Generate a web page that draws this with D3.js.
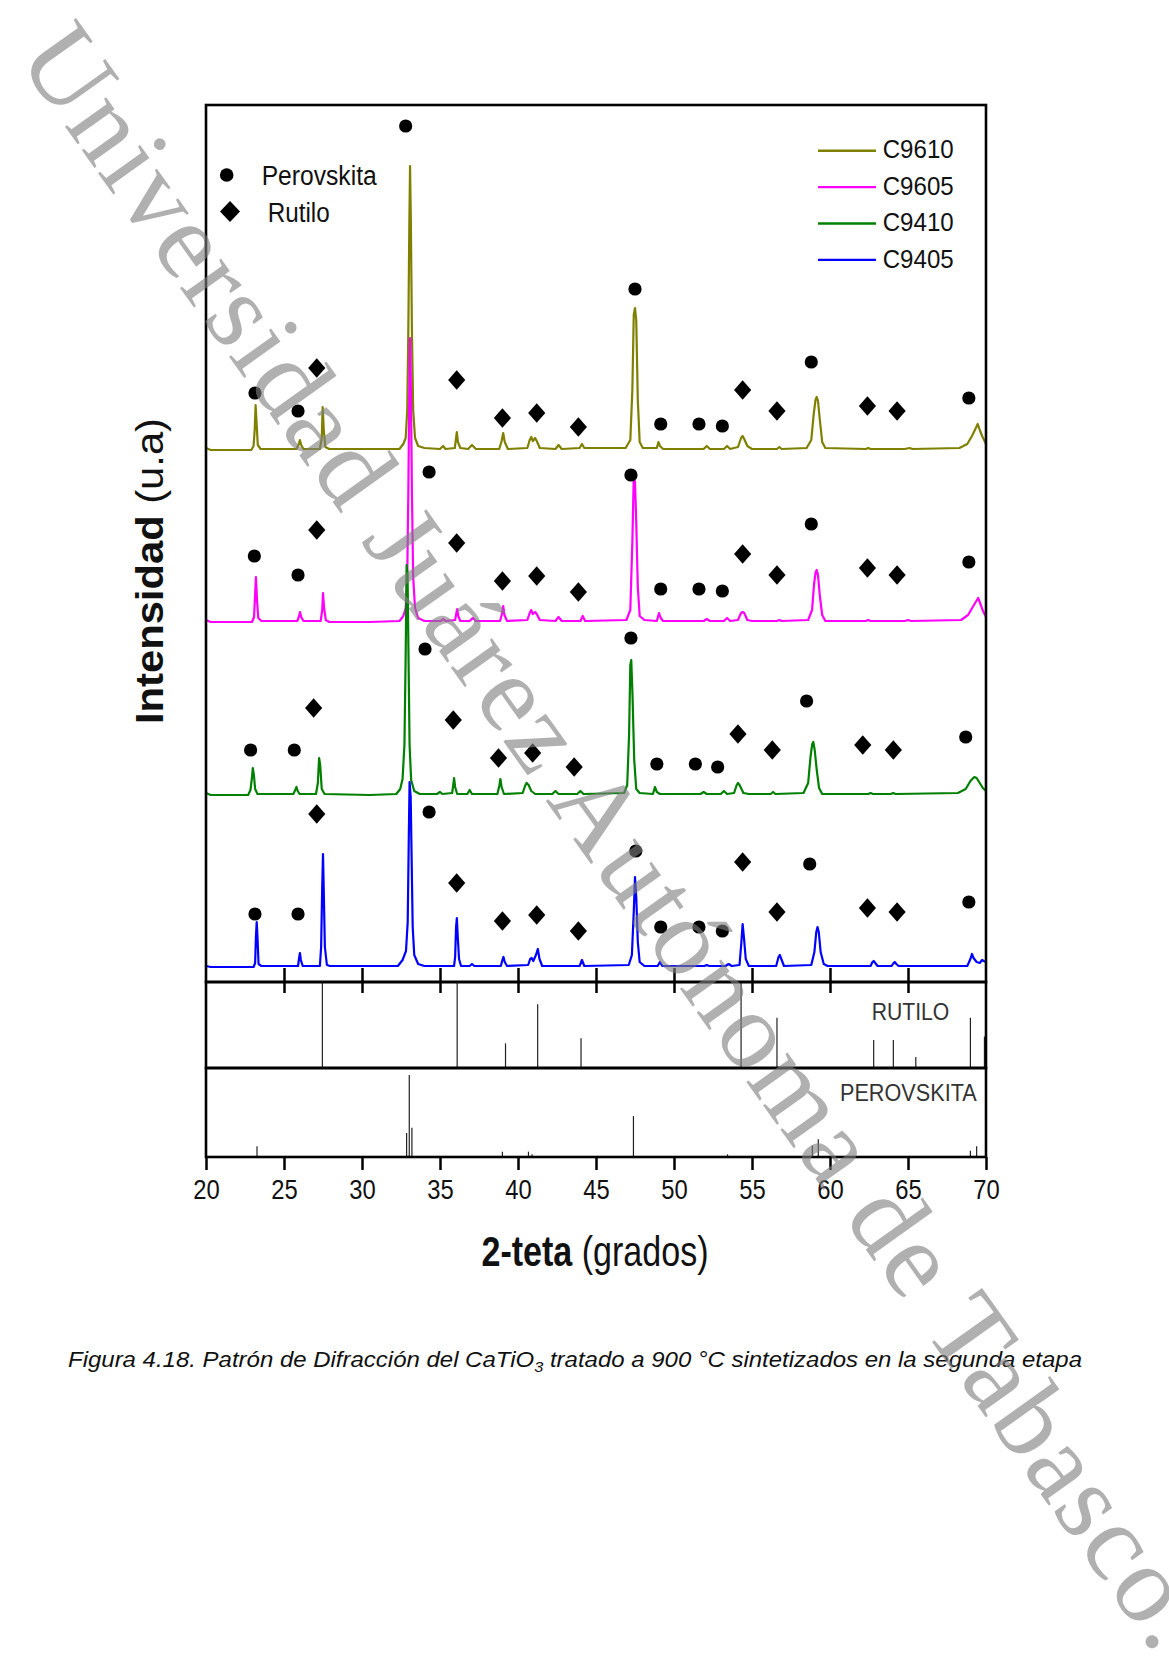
<!DOCTYPE html>
<html>
<head>
<meta charset="utf-8">
<script src="https://cdn.jsdelivr.net/npm/d3@7/dist/d3.min.js"></script>
<style>
body {margin:0; background:#fff;}
svg {display:block;}
text {font-family:"Liberation Sans", Arial, sans-serif;}
</style>
</head>
<body>
<svg id="chart" width="1169" height="1673"></svg>
<script>
/*** Data (2-teta in grados, intensidad in u.a.) ***/
const seriesNames   = ["C9610", "C9605", "C9410", "C9405"]
const seriesColors  = ["#808000", "#ff00ff", "#008000", "#0000ff"]
const seriesOffsets = [532, 360, 187, 15]
const xTicks        = [20, 25, 30, 35, 40, 45, 50, 55, 60, 65, 70]

const c9610 = [[20,2],[20.3,0],[22.9,0],[23.05,4],[23.12,20],[23.18,45],[23.25,25],[23.32,5],[23.5,1],[25.8,1],[25.95,6],[26.02,10],[26.1,5],[26.25,1],
	[27.3,1],[27.42,12],[27.48,43],[27.55,20],[27.65,3],[27.9,1],[30.5,1],[32.4,1],[32.65,6],[32.8,12],[32.9,40],[32.97,120],[33.03,220],[33.08,284],
	[33.13,230],[33.2,120],[33.28,40],[33.4,12],[33.6,4],[34,2],[35,1],[35.2,4],[35.35,1],[35.95,2],[36.03,12],[36.08,18],[36.15,8],[36.3,2],[36.8,1],
	[37.05,5],[37.3,1],[38.8,1],[38.95,9],[39.05,17],[39.15,8],[39.35,1],[40.6,2],[40.75,10],[40.85,13],[40.95,9],[41.1,12],[41.2,9],[41.4,2],[42.4,1],
	[42.6,5],[42.8,1],[43.95,2],[44.1,6],[44.25,2],[46.9,2],[47.2,10],[47.33,60],[47.42,135],[47.5,142],[47.58,130],[47.68,50],[47.8,8],[48,2],[48.9,2],
	[49,8],[49.1,4],[49.3,1],[51.9,1],[52.1,4],[52.3,1],[53.2,1],[53.4,4],[53.6,1],[54.1,3],[54.3,12],[54.4,14],[54.5,11],[54.7,4],[55,1],[56.6,1],
	[56.75,3],[56.9,1],[58.5,2],[58.8,10],[58.95,35],[59.07,50],[59.15,53],[59.23,49],[59.35,30],[59.5,8],[59.7,2],[62.3,1],[62.45,2],[62.6,1],[64.8,1],
	[65.1,2],[65.3,1],[68.3,2],[68.8,6],[69.1,14],[69.35,22],[69.47,26],[69.6,20],[69.75,14],[70,6]]

const c9605 = [[20,2],[20.3,0],[22.95,0],[23.08,5],[23.14,25],[23.2,45],[23.27,22],[23.35,4],[23.55,1],[25.85,1],[25.97,6],[26.03,10],[26.1,5],[26.25,1],
	[27.35,1],[27.45,12],[27.5,29],[27.57,14],[27.68,2],[27.9,0],[30.5,0],[32.4,1],[32.65,6],[32.8,14],[32.9,45],[32.97,130],[33.03,230],[33.08,284],
	[33.13,240],[33.2,130],[33.28,45],[33.4,14],[33.6,4],[34,1],[35.05,1],[35.2,3],[35.35,1],[35.97,2],[36.05,9],[36.1,13],[36.17,6],[36.3,1],[36.9,1],
	[37.1,4],[37.3,1],[38.85,1],[38.97,8],[39.05,16],[39.13,7],[39.3,1],[40.6,2],[40.75,9],[40.85,12],[40.95,8],[41.1,10],[41.2,8],[41.4,2],[42.4,1],
	[42.6,5],[42.8,1],[44,1],[44.15,6],[44.3,1],[46.95,2],[47.2,12],[47.33,80],[47.42,145],[47.5,140],[47.58,100],[47.68,35],[47.8,6],[48.1,2],[48.9,1],
	[49.04,9],[49.15,4],[49.3,1],[51.9,1],[52.1,3],[52.3,1],[53.2,1],[53.4,4],[53.6,1],[54.1,2],[54.3,9],[54.4,10],[54.5,9],[54.7,2],[55,1],[56.6,1],
	[56.75,2],[56.9,1],[58.6,2],[58.85,12],[58.98,38],[59.08,50],[59.15,52],[59.23,47],[59.35,26],[59.5,7],[59.7,1],[62.3,1],[62.45,2],[62.6,1],[64.8,1],
	[65,2],[65.2,1],[68.4,2],[68.85,7],[69.15,15],[69.38,21],[69.5,24],[69.62,19],[69.78,12],[70,5]]

const c9410 = [[20,2],[20.3,0],[22.7,0],[22.85,5],[22.95,18],[23,27],[23.07,20],[23.15,6],[23.3,1],[25.6,1],[25.72,5],[25.8,8],[25.88,4],[26,1],
	[27.05,1],[27.17,12],[27.25,37],[27.32,30],[27.42,6],[27.6,1],[30.5,0],[32.2,1],[32.45,6],[32.6,16],[32.72,50],[32.8,140],[32.86,230],[32.92,220],
	[32.98,140],[33.05,50],[33.15,15],[33.35,4],[33.7,1],[34.8,1],[35,3],[35.15,1],[35.78,2],[35.86,11],[35.9,17],[35.97,8],[36.1,1],[36.75,1],[36.9,5],
	[37.05,1],[38.68,1],[38.8,9],[38.87,16],[38.95,8],[39.1,1],[40.3,2],[40.45,9],[40.55,12],[40.68,10],[40.85,4],[41.1,1],[42.2,1],[42.4,4],[42.6,1],
	[43.8,1],[44,4],[44.2,1],[46.8,2],[47,10],[47.12,60],[47.2,130],[47.26,135],[47.34,100],[47.45,35],[47.58,6],[47.8,2],[48.65,1],[48.78,8],[48.9,3],
	[49.1,1],[51.7,1],[51.9,3],[52.1,1],[53,1],[53.2,4],[53.4,1],[53.85,2],[54.02,10],[54.1,12],[54.2,10],[54.45,2],[54.8,1],[56.2,1],[56.35,3],[56.5,1],
	[58.3,2],[58.6,12],[58.75,38],[58.86,51],[58.93,53],[59.02,45],[59.15,25],[59.3,7],[59.5,1],[62.45,1],[62.6,2],[62.75,1],[63.9,1],[64.05,2],[64.2,1],
	[68.2,2],[68.7,6],[69,14],[69.25,18],[69.4,17],[69.6,12],[69.8,7],[70,4]]

const c9405 = [[20,1],[20.3,0],[23.05,0],[23.15,4],[23.2,30],[23.25,45],[23.3,30],[23.37,3],[23.55,1],[25.9,1],[25.96,8],[26.02,14],[26.08,7],[26.2,1],
	[27.3,1],[27.38,20],[27.45,80],[27.5,113],[27.55,75],[27.62,20],[27.75,2],[27.95,1],[30.5,1],[32.3,1],[32.6,7],[32.82,16],[32.93,45],[33,130],
	[33.05,185],[33.12,170],[33.18,110],[33.25,40],[33.35,12],[33.6,3],[34,1],[35.9,1],[35.97,10],[36.03,40],[36.08,49],[36.14,30],[36.22,8],[36.35,1],
	[36.9,1],[37.05,3],[37.2,1],[38.9,1],[39,7],[39.07,10],[39.15,5],[39.3,1],[40.65,2],[40.78,8],[40.88,9],[40.98,6],[41.15,12],[41.27,18],[41.38,8],
	[41.55,1],[43.95,1],[44.1,7],[44.25,1],[47.1,2],[47.3,12],[47.42,55],[47.5,90],[47.58,70],[47.68,25],[47.8,5],[48.1,1],[48.95,1],[49.1,5],[49.25,1],
	[51.95,1],[52.1,2],[52.25,1],[53.3,1],[53.5,3],[53.7,1],[54.2,2],[54.32,25],[54.4,43],[54.48,30],[54.6,8],[54.8,1],[56.55,1],[56.7,10],[56.78,12],
	[56.88,8],[57.05,1],[58.8,2],[59,15],[59.12,35],[59.2,40],[59.28,35],[59.4,15],[59.6,3],[59.85,1],[62.6,1],[62.72,5],[62.8,6],[62.9,4],[63.05,1],
	[63.95,1],[64.08,4],[64.15,5],[64.25,3],[64.4,1],[68.8,1],[69,8],[69.1,13],[69.2,9],[69.4,5],[69.6,4],[69.75,7],[69.85,6],[70,5]]

// peak labels, [2-teta, height above the trace baseline]
const perovC9610 = [[32.8,324],[23.14,57],[25.9,39],[47.5,161],[49.15,26],[51.6,26],[53.1,24],[58.8,88],[68.9,52]]
const rutilC9610 = [[27.1,82],[36.07,70],[39,32],[41.2,37],[43.87,23],[54.4,60],[56.6,39],[62.4,44],[64.3,39]]
const perovC9605 = [[34.3,150],[23.1,66],[25.9,47],[47.24,147],[49.15,33],[51.6,33],[53.1,31],[58.8,98],[68.9,60]]
const rutilC9605 = [[27.1,92],[36.07,79],[39,41],[41.2,46],[43.87,30],[54.4,68],[56.6,47],[62.4,54],[64.3,47]]
const perovC9410 = [[34.04,146],[22.86,45],[25.66,45],[47.24,157],[48.9,31],[51.37,31],[52.8,28],[58.5,94],[68.7,58]]
const rutilC9410 = [[26.9,87],[35.85,75],[38.75,37],[40.94,42],[43.6,28],[54.1,61],[56.3,45],[62.1,50],[64.06,45]]
const perovC9405 = [[34.3,155],[23.14,53],[25.9,53],[47.55,116],[49.15,40],[51.6,40],[53.1,36],[58.7,103],[68.9,65]]
const rutilC9405 = [[27.1,153],[36.07,84],[39,46],[41.2,52],[43.87,36],[54.4,105],[56.6,55],[62.4,59],[64.3,55]]

// reference patterns, relative intensity (%)
const rutiloRef = [[27.46,100],[36.1,100],[39.2,29],[41.26,75],[44.04,35],[54.3,100],[56.6,59],[62.8,33],[64.06,33],[65.5,13],[69,59],[69.9,37]]
const perovRef  = [[23.27,12],[32.86,27],[33.03,92],[33.2,33],[39,6],[40.67,6],[40.9,3],[47.4,46],[53.43,3],[58.87,13],[59.25,20],[69,7],[69.4,12]]

/*** Setup ***/
const W = 1169, H = 1673
const LEFT = 206, RIGHT = 986, TOP = 105, MID1 = 982, MID2 = 1068, BOTTOM = 1157

var svg  = d3.select("#chart")
var x    = d3.scaleLinear().domain([20, 70]).range([LEFT, RIGHT])
var y    = d3.scaleLinear().domain([0, 877]).range([MID1, TOP])
var yRut = d3.scaleLinear().domain([0, 100]).range([MID2, MID1 + 1])
var yPer = d3.scaleLinear().domain([0, 100]).range([BOTTOM, MID2])

var traces = [c9610, c9605, c9410, c9405]
var perovMarks = [perovC9610, perovC9605, perovC9410, perovC9405]
var rutilMarks = [rutilC9610, rutilC9605, rutilC9410, rutilC9405]

function diamond(w, h) {return "M0," + (-h) + "L" + w + ",0L0," + h + "L" + (-w) + ",0Z"}

svg.append("rect").attr("width", W).attr("height", H).attr("fill", "#fff")

/*** Traces ***/
traces.forEach((s, i) => {
	var line = d3.line()
		.x(d => x(d[0]))
		.y(d => y(d[1] + seriesOffsets[i]))
	svg.append("path")
		.datum(s)
		.attr("d", line)
		.attr("fill", "none")
		.attr("stroke", seriesColors[i])
		.attr("stroke-width", 2.2)
		.attr("stroke-linejoin", "round")
})

/*** Phase markers ***/
perovMarks.forEach((m, i) => {
	svg.append("g").selectAll("circle")
		.data(m).enter()
		.append("circle")
		.attr("cx", d => x(d[0]))
		.attr("cy", d => y(d[1] + seriesOffsets[i]))
		.attr("r", 6.6)
		.attr("fill", "#000")
})
rutilMarks.forEach((m, i) => {
	svg.append("g").selectAll("path")
		.data(m).enter()
		.append("path")
		.attr("d", diamond(8.6, 9.8))
		.attr("transform", d => "translate(" + x(d[0]) + "," + y(d[1] + seriesOffsets[i]) + ")")
		.attr("fill", "#000")
})

/*** Reference sticks ***/
svg.append("g").selectAll("line")
	.data(rutiloRef).enter()
	.append("line")
	.attr("x1", d => x(d[0])).attr("x2", d => x(d[0]))
	.attr("y1", yRut(0)).attr("y2", d => yRut(d[1]))
	.attr("stroke", "#222").attr("stroke-width", 1.2)
svg.append("g").selectAll("line")
	.data(perovRef).enter()
	.append("line")
	.attr("x1", d => x(d[0])).attr("x2", d => x(d[0]))
	.attr("y1", yPer(0)).attr("y2", d => yPer(d[1]))
	.attr("stroke", "#222").attr("stroke-width", 1.2)

/*** Frames & axes ***/
var frames = [[TOP, MID1], [MID1, MID2], [MID2, BOTTOM]]
svg.append("g").selectAll("rect")
	.data(frames).enter()
	.append("rect")
	.attr("x", LEFT).attr("y", d => d[0])
	.attr("width", RIGHT - LEFT).attr("height", d => d[1] - d[0])
	.attr("fill", "none").attr("stroke", "#000").attr("stroke-width", 2.6)

var inner = xTicks.slice(1, -1)
var gUp = svg.append("g").attr("transform", "translate(0," + MID1 + ")")
	.call(d3.axisBottom(x).tickValues(inner).tickSize(-14).tickFormat(""))
var gDn = svg.append("g").attr("transform", "translate(0," + MID1 + ")")
	.call(d3.axisBottom(x).tickValues(inner).tickSize(11).tickFormat(""))
var gAx = svg.append("g").attr("transform", "translate(0," + BOTTOM + ")")
	.call(d3.axisBottom(x).tickValues(xTicks).tickSize(13).tickFormat(d3.format("d")))
;[gUp, gDn, gAx].forEach(g => {
	g.select(".domain").remove()
	g.selectAll(".tick line").attr("stroke", "#000").attr("stroke-width", 2.5)
})
gAx.selectAll(".tick text")
	.attr("y", 42).attr("dy", 0)
	.attr("fill", "#111")
	.style("font-size", "27px")
	.style("font-family", "'Liberation Sans', Arial, sans-serif")
	.attr("textLength", 26.5).attr("lengthAdjust", "spacingAndGlyphs")

/*** Axis titles ***/
var xt = svg.append("text")
	.attr("x", 595).attr("y", 1266)
	.attr("text-anchor", "middle")
	.attr("textLength", 227).attr("lengthAdjust", "spacingAndGlyphs")
	.style("font-size", "43px").attr("fill", "#111")
xt.append("tspan").attr("font-weight", "bold").text("2-teta")
xt.append("tspan").text(" (grados)")

var yt = svg.append("text")
	.attr("transform", "translate(163,571) rotate(-90)")
	.attr("text-anchor", "middle")
	.attr("textLength", 306).attr("lengthAdjust", "spacingAndGlyphs")
	.style("font-size", "39px").attr("fill", "#111")
yt.append("tspan").attr("font-weight", "bold").text("Intensidad")
yt.append("tspan").text(" (u.a)")

/*** Legends ***/
svg.append("circle").attr("cx", 226.7).attr("cy", 175).attr("r", 6.8).attr("fill", "#000")
svg.append("path").attr("d", diamond(10, 10.5)).attr("transform", "translate(230,211.5)").attr("fill", "#000")
svg.append("text").attr("x", 261.7).attr("y", 185).style("font-size", "27px").attr("fill", "#111")
	.attr("textLength", 115).attr("lengthAdjust", "spacingAndGlyphs").text("Perovskita")
svg.append("text").attr("x", 267.7).attr("y", 221.7).style("font-size", "27px").attr("fill", "#111")
	.attr("textLength", 62).attr("lengthAdjust", "spacingAndGlyphs").text("Rutilo")

var leg = svg.append("g").selectAll("g")
	.data(seriesNames).enter()
	.append("g")
	.attr("transform", (d, i) => "translate(0," + (150.7 + i * 36.4) + ")")
leg.append("line")
	.attr("x1", 818).attr("x2", 876)
	.attr("stroke", (d, i) => seriesColors[i]).attr("stroke-width", 2.4)
leg.append("text")
	.attr("x", 882.7).attr("y", 7.6)
	.style("font-size", "25px").attr("fill", "#111")
	.attr("textLength", 71).attr("lengthAdjust", "spacingAndGlyphs")
	.text(d => d)

svg.append("text").attr("x", 871.7).attr("y", 1020).style("font-size", "23.5px").attr("fill", "#333")
	.attr("textLength", 77.6).attr("lengthAdjust", "spacingAndGlyphs").text("RUTILO")
svg.append("text").attr("x", 840).attr("y", 1100.7).style("font-size", "24px").attr("fill", "#333")
	.attr("textLength", 136.7).attr("lengthAdjust", "spacingAndGlyphs").text("PEROVSKITA")

/*** Caption ***/
var cap = svg.append("text")
	.attr("x", 68).attr("y", 1367)
	.attr("textLength", 1014).attr("lengthAdjust", "spacingAndGlyphs")
	.style("font-size", "22px").style("font-style", "italic").attr("fill", "#111")
cap.append("tspan").text("Figura 4.18. Patrón de Difracción del CaTiO")
cap.append("tspan").attr("dy", 5).style("font-size", "15px").text("3")
cap.append("tspan").attr("dy", -5).text(" tratado a 900 °C sintetizados en la segunda etapa")

/*** Watermark ***/
var wmStart = [16, 58], wmEnd = [1156, 1656]
var wmAngle = Math.atan2(wmEnd[1] - wmStart[1], wmEnd[0] - wmStart[0]) * 180 / Math.PI
var wmLen = Math.hypot(wmEnd[0] - wmStart[0], wmEnd[1] - wmStart[1])
svg.append("text")
	.attr("transform", "translate(" + wmStart + ") rotate(" + wmAngle + ")")
	.attr("textLength", wmLen)
	.style("font-family", "'Liberation Serif', 'Times New Roman', serif")
	.style("font-size", "110px")
	.attr("fill", "#808080").attr("fill-opacity", 0.62)
	.text("Universidad Juárez Autónoma de Tabasco.")
</script>
</body>
</html>
